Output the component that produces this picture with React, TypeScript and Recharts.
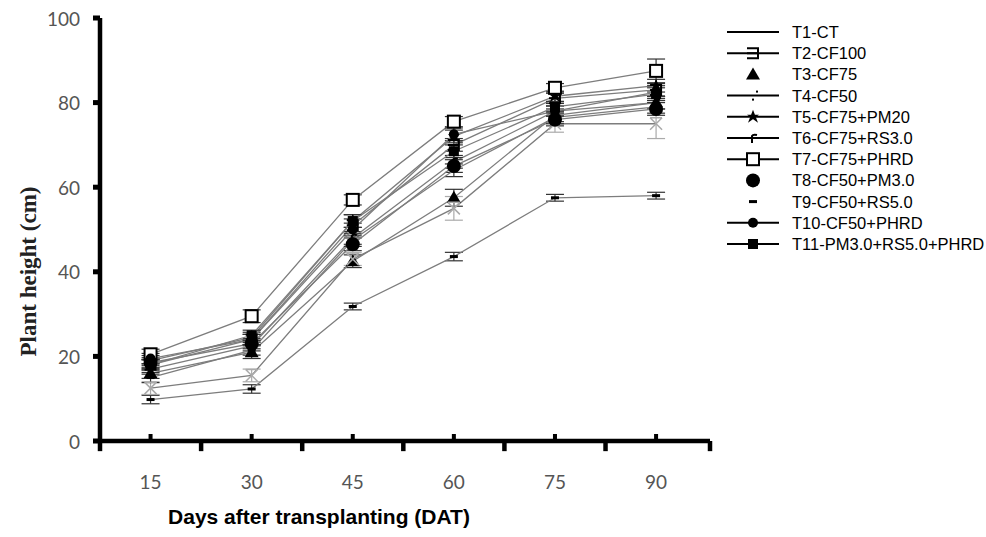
import React from 'react';
import { LineChart, Line, XAxis, YAxis, ErrorBar, ReferenceLine } from 'recharts';

const days = [15, 30, 45, 60, 75, 90];
const bounds = [7.5, 22.5, 37.5, 52.5, 67.5, 82.5, 98];
const yTicks = [0, 20, 40, 60, 80, 100];

const names = [
  'T1-CT', 'T2-CF100', 'T3-CF75', 'T4-CF50', 'T5-CF75+PM20', 'T6-CF75+RS3.0',
  'T7-CF75+PHRD', 'T8-CF50+PM3.0', 'T9-CF50+RS5.0', 'T10-CF50+PHRD', 'T11-PM3.0+RS5.0+PHRD',
];

// plant height (cm) per treatment
const t1 = [9.8, 12.3, 31.8, 43.6, 57.5, 58.0];
const t2 = [18.0, 24.0, 51.0, 70.0, 81.0, 83.0];
const t3 = [16.0, 21.0, 42.5, 57.5, 77.0, 80.0];
const t4 = [12.5, 15.5, 43.0, 55.0, 75.0, 75.0];
const t5 = [19.0, 24.5, 52.0, 72.0, 81.5, 84.0];
const t6 = [17.0, 22.5, 48.0, 66.0, 78.0, 80.0];
const t7 = [20.5, 29.5, 57.0, 75.5, 83.5, 87.5];
const t8 = [18.5, 23.0, 46.5, 65.0, 76.0, 78.5];
const t9 = [15.0, 21.5, 47.5, 64.0, 76.5, 79.0];
const t10 = [19.5, 24.0, 50.0, 72.5, 78.0, 82.5];
const t11 = [18.0, 25.0, 52.0, 68.5, 79.0, 82.0];

// standard errors
const e1 = [1.0, 1.0, 0.8, 1.0, 0.8, 0.8];
const e2 = [1.2, 1.2, 1.5, 1.5, 1.2, 1.5];
const e3 = [1.2, 1.5, 1.5, 2.0, 1.5, 1.5];
const e4 = [1.5, 1.5, 1.5, 2.8, 2.0, 3.5];
const e5 = [1.2, 1.2, 1.5, 1.5, 1.2, 1.5];
const e6 = [1.2, 1.2, 1.5, 1.5, 1.2, 1.5];
const e7 = [1.2, 1.5, 1.2, 1.2, 1.0, 2.8];
const e8 = [1.2, 1.2, 1.5, 1.5, 1.5, 1.5];
const e9 = [1.2, 1.2, 1.5, 1.5, 1.5, 1.5];
const e10 = [1.2, 1.2, 1.5, 1.5, 1.2, 1.5];
const e11 = [1.2, 1.2, 1.5, 1.5, 1.2, 1.5];

const series = [t1, t2, t3, t4, t5, t6, t7, t8, t9, t10, t11];
const errors = [e1, e2, e3, e4, e5, e6, e7, e8, e9, e10, e11];
const markers = ['dash', 'bracket', 'triangle', 'xgray', 'star', 'hook', 'square', 'circle', 'dash', 'diamond', 'fsquare'];
const legendLine = [true, true, false, true, true, true, true, false, false, true, true];
const legendMarker = ['none', 'bracket', 'triangle', 'dots', 'star', 'hook', 'square', 'circle', 'dash', 'diamond', 'fsquare'];

const AXIS_W = 7;

const data = days.map((day, i) => {
  const row: any = { day };
  series.forEach((s, k) => {
    row['t' + (k + 1)] = s[i];
    row['e' + (k + 1)] = errors[k][i];
  });
  return row;
});

const Marker = ({ kind, cx, cy }: { kind: string; cx: number; cy: number }) => {
  switch (kind) {
    case 'dash':
      return <rect x={cx - 4} y={cy - 1.5} width={8} height={3} fill="#000" />;
    case 'dots':
      return (
        <g fill="#000">
          <rect x={cx - 1} y={cy + 3} width={2} height={2} />
          <rect x={cx + 3} y={cy - 5} width={2} height={2} />
        </g>
      );
    case 'bracket':
      return (
        <path
          d={`M${cx - 6},${cy - 5}H${cx + 5}V${cy + 5}H${cx - 6}M${cx - 6},${cy}H${cx + 5}`}
          stroke="#000" strokeWidth={2} fill="none"
        />
      );
    case 'triangle':
      return <polygon points={`${cx},${cy - 7} ${cx + 7},${cy + 5} ${cx - 7},${cy + 5}`} fill="#000" />;
    case 'xgray':
      return (
        <path
          d={`M${cx - 6},${cy - 6}L${cx + 6},${cy + 6}M${cx + 6},${cy - 6}L${cx - 6},${cy + 6}M${cx - 6},${cy - 6}H${cx + 6}`}
          stroke="#aaa" strokeWidth={1.5} fill="none"
        />
      );
    case 'star':
      return <polygon points={`${cx},${cy - 7} ${cx + 5},${cy + 6} ${cx - 6},${cy - 2} ${cx + 6},${cy - 2} ${cx - 5},${cy + 6}`} fill="#000" />;
    case 'hook':
      return <path d={`M${cx - 1},${cy + 5}V${cy - 2}Q${cx},${cy - 4} ${cx + 4},${cy - 3}`} stroke="#000" strokeWidth={2} fill="none" />;
    case 'square':
      return <rect x={cx - 6} y={cy - 6} width={12} height={12} fill="#fff" stroke="#000" strokeWidth={2} />;
    case 'circle':
      return <circle cx={cx} cy={cy} r={7} fill="#000" />;
    case 'diamond':
      return <circle cx={cx} cy={cy} r={5} fill="#000" />;
    case 'fsquare':
      return <rect x={cx - 5} y={cy - 5} width={10} height={10} fill="#000" />;
    default:
      return <g />;
  }
};

const DayTick = ({ x, y, payload }: any) => (
  <g>
    <rect x={x - 2} y={y - 7} width={4} height={7} fill="#000" />
    <text x={x} y={y + 48} textAnchor="middle" fill="#555" fontSize={19} fontFamily="Lato, 'Open Sans', sans-serif">
      {payload.value}
    </text>
  </g>
);

const HeightTick = ({ x, y, payload }: any) => (
  <g>
    <rect x={x - 7} y={y - 2.5} width={7} height={5} fill="#000" />
    <text x={x - 20} y={y} textAnchor="end" dominantBaseline="central" fill="#555" fontSize={19}
      fontFamily="Lato, 'Open Sans', sans-serif">
      {payload.value}
    </text>
  </g>
);

const YTitle = ({ viewBox }: any) => {
  const x = viewBox.x + 28;
  const y = viewBox.y + viewBox.height / 2 + 42;
  return (
    <text x={x} y={y} transform={`rotate(-90 ${x} ${y})`} textAnchor="middle" dominantBaseline="central"
      fontFamily="'Liberation Serif', 'DejaVu Serif', serif" fontWeight="bold" fontSize={23} fill="#222">
      Plant height (cm)
    </text>
  );
};

const XTitle = ({ viewBox }: any) => (
  <text x={viewBox.x + 219} y={viewBox.y + 83} textAnchor="middle"
    fontFamily="'Liberation Sans', Arial, sans-serif" fontWeight="bold" fontSize={21} fill="#000">
    Days after transplanting (DAT)
  </text>
);

const LegendBox = () => (
  <svg width={986} height={537} style={{ position: 'absolute', left: 0, top: 0, pointerEvents: 'none' }}>
    {names.map((n, i) => {
      const y = 32 + i * 21.2;
      return (
        <g key={n}>
          {legendLine[i] && <line x1={727} x2={779} y1={y} y2={y} stroke="#000" strokeWidth={2} />}
          <Marker kind={legendMarker[i]} cx={753} cy={y} />
          <text x={792} y={y + 6} fontSize={16.5} fontFamily="'Liberation Sans Narrow', 'Arial Narrow', 'Liberation Sans', Arial, sans-serif" fill="#000">
            {n}
          </text>
        </g>
      );
    })}
  </svg>
);

export default function App() {
  return (
    <div style={{ position: 'absolute', left: 0, top: 0, width: 986, height: 537, background: '#fff' }}>
      <LineChart width={986} height={537} data={data} margin={{ top: 18, right: 276, left: 0, bottom: 0 }}>
        <XAxis
          type="number" dataKey="day" domain={[7.5, 98]} ticks={days} tickLine={false} tickSize={0} tickMargin={0}
          tick={<DayTick />} axisLine={false} height={96} label={<XTitle />}
        />
        <YAxis
          domain={[0, 100]} ticks={yTicks} width={100} axisLine={false} tickLine={false} tickSize={0} tickMargin={0}
          tick={<HeightTick />} label={<YTitle />}
        />
        {series.map((_, k) => (
          <Line
            key={names[k]} dataKey={'t' + (k + 1)} name={names[k]} stroke="#7d7d7d" strokeWidth={1.3}
            isAnimationActive={false}
            dot={(p: any) => <Marker key={`${k}-${p.index}`} kind={markers[k]} cx={p.cx} cy={p.cy} />}
            activeDot={false}
          >
            <ErrorBar dataKey={'e' + (k + 1)} width={9} stroke={k === 3 ? '#aaa' : '#333'} strokeWidth={1.2} direction="y" />
          </Line>
        ))}
        {/* axis lines and the between-category ticks below the x axis */}
        <ReferenceLine x={7.5} stroke="#000" strokeWidth={AXIS_W} style={{ strokeWidth: 4.5 }} ifOverflow="visible" />
        <ReferenceLine y={0} stroke="#000" strokeWidth={AXIS_W} style={{ strokeWidth: 4.5 }} ifOverflow="visible" />
        {bounds.map((b) => (
          <ReferenceLine key={b} segment={[{ x: b, y: 0 }, { x: b, y: -2.4 }]} stroke="#000" style={{ strokeWidth: 4.5 }}
            strokeWidth={AXIS_W} ifOverflow="visible" />
        ))}
      </LineChart>
      <LegendBox />
    </div>
  );
}
